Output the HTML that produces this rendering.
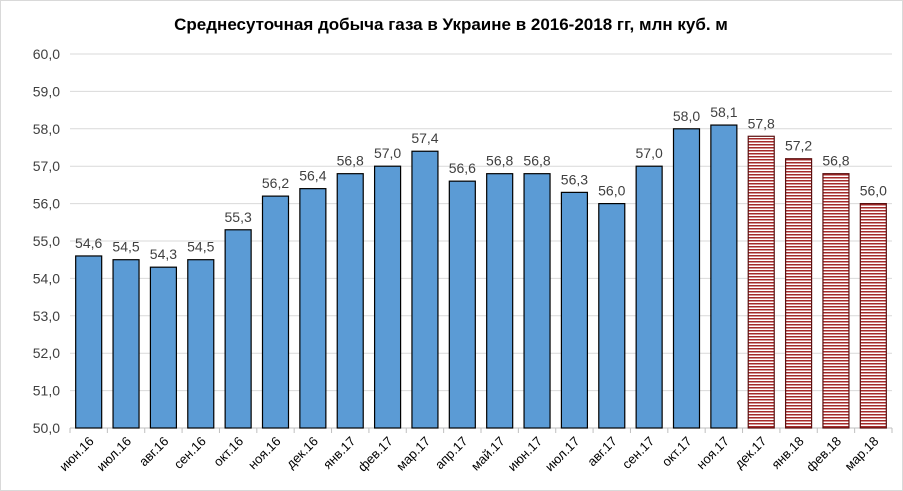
<!DOCTYPE html>
<html><head><meta charset="utf-8"><style>
body{margin:0;background:#fff;}
svg{display:block;font-family:"Liberation Sans","DejaVu Sans",sans-serif;}
</style></head><body>
<svg id="chart" width="903" height="491">
<defs>
<pattern id="hatch" width="4" height="3" patternUnits="userSpaceOnUse">
<rect width="4" height="3" fill="#fff"/><rect width="4" height="1.5" fill="#a52a2a"/>
</pattern>
</defs>
<rect x="0.5" y="0.5" width="902" height="490" fill="#fff" stroke="#d9d9d9"/>
<text x="451" y="30" text-anchor="middle" font-size="17" font-weight="bold" fill="#000">Среднесуточная  добыча газа в Украине в 2016-2018 гг, млн куб. м</text>
<g id="grid"></g><g id="bars"></g><g id="labels"></g>
</svg>
<script>
const categories=["июн.16","июл.16","авг.16","сен.16","окт.16","ноя.16","дек.16","янв.17","фев.17","мар.17","апр.17","май.17","июн.17","июл.17","авг.17","сен.17","окт.17","ноя.17","дек.17","янв.18","фев.18","мар.18"];
const values=[54.6,54.5,54.3,54.5,55.3,56.2,56.4,56.8,57.0,57.4,56.6,56.8,56.8,56.3,56.0,57.0,58.0,58.1,57.8,57.2,56.8,56.0];
const forecastFrom=18;
const yTicks=[50,51,52,53,54,55,56,57,58,59,60];
const NS="http://www.w3.org/2000/svg";
const x0=70,x1=892,yMin=50,yMax=60,yTop=54,yBot=428;
const bw=(x1-x0)/categories.length;
const y=v=>yBot-(v-yMin)/(yMax-yMin)*(yBot-yTop);
const xC=i=>x0+bw*(i+0.5);
function mk(tag,attrs,parent){const e=document.createElementNS(NS,tag);for(const k in attrs)e.setAttribute(k,attrs[k]);parent.appendChild(e);return e;}
const grid=document.getElementById('grid'),bars=document.getElementById('bars'),labels=document.getElementById('labels');
yTicks.forEach(t=>{
 const l=mk('line',{x1:x0,x2:x1,y1:y(t),y2:y(t),stroke:t===yMin?'#bfbfbf':'#d9d9d9','stroke-width':1},grid);
 
 
 const tx=mk('text',{x:x0-10,y:y(t)+5,'text-anchor':'end','font-size':14,fill:'#404040'},grid);
 tx.textContent=t.toFixed(1).replace('.',',');
 
 
});
for(let i=0;i<=categories.length;i++){
 const l=mk('line',{x1:x0+bw*i,x2:x0+bw*i,y1:yBot,y2:yBot+5,stroke:'#bfbfbf'},grid);
 
 
}
categories.forEach((c,i)=>{
 const v=values[i],cx=xC(i),w=26,f=i>=forecastFrom;
 const r=mk('rect',{x:cx-w/2,y:y(v),width:w,height:yBot-y(v),fill:f?'url(#hatch)':'#5b9bd5',stroke:f?'#5a1010':'#000','stroke-width':1.2},bars);
 
 
 const t=mk('text',{x:cx,y:y(v)-8,'text-anchor':'middle','font-size':14,fill:'#404040'},labels);
 t.textContent=v.toFixed(1).replace('.',',');
 
 
 const xl=mk('text',{x:cx+6,y:yBot+14,'text-anchor':'end','font-size':13,fill:'#000',transform:`rotate(-45 ${cx+6} ${yBot+14})`},labels);
 xl.textContent=c;
 
 
});
</script>
</body></html>
